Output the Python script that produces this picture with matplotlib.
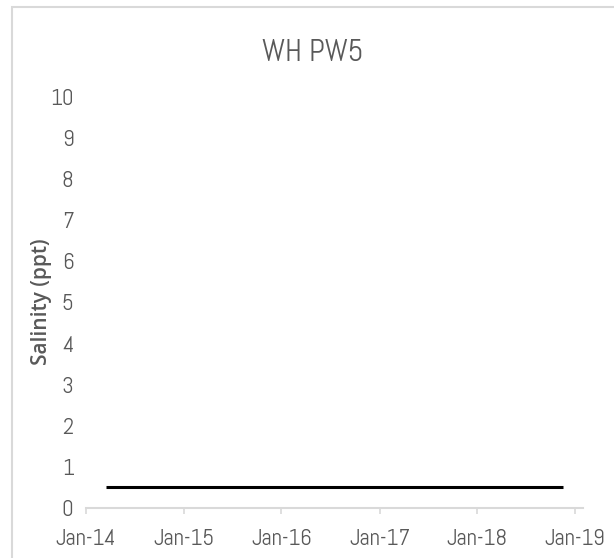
import numpy as np
import matplotlib.pyplot as plt
import matplotlib.dates as mdates
from matplotlib.patches import Rectangle
import datetime as dt

# data
dates = [dt.date(2014, 3, 17), dt.date(2018, 11, 16)]
salinity = [0.51, 0.51]
yticks = list(range(0, 11))
xtick_dates = [dt.date(y, 1, 1) for y in range(2014, 2020)]

narrow = ['Abel', 'Carlito', 'DejaVu Sans']
grey = '#595959'

W, H = 614, 558
fig = plt.figure(figsize=(W / 100, H / 100), dpi=100)

# chart border (Excel style, cropped on right/bottom)
fig.patches.append(Rectangle((12 / W, -0.1), 1.2, 1 - 7.5 / H + 0.1, transform=fig.transFigure,
                             fill=False, edgecolor='#d9d9d9', linewidth=1.5))

left, right, bottom, top = 86, 583, 508, 97
ax = fig.add_axes([left / W, (H - bottom) / H, (right - left) / W, (bottom - top) / H])

ax.plot(mdates.date2num(dates), salinity, color='black', linewidth=2.2, solid_capstyle='butt')

x0 = mdates.date2num(dt.date(2014, 1, 1))
px_per_day = (575 - 86) / (mdates.date2num(dt.date(2019, 1, 1)) - x0)
ax.set_xlim(x0, x0 + (right - left) / px_per_day)
ax.set_ylim(0, 10)

ax.set_xticks(mdates.date2num(xtick_dates))
ax.xaxis.set_major_formatter(mdates.DateFormatter('%b-%y'))
ax.set_yticks(yticks)

for lab in ax.get_xticklabels() + ax.get_yticklabels():
    lab.set_fontfamily(narrow)
    lab.set_fontsize(16.5)
    lab.set_color(grey)

for s in ['top', 'right', 'left']:
    ax.spines[s].set_visible(False)
ax.spines['bottom'].set_color('#d9d9d9')
ax.spines['bottom'].set_linewidth(1.5)
ax.tick_params(axis='x', direction='out', length=4, width=1.2, color='#d9d9d9', pad=11)
ax.tick_params(axis='y', length=0, pad=9)

fig.text(313 / W, 1 - 53 / H, 'WH PW5', ha='center', va='center',
         fontfamily=narrow, fontsize=22, color=grey)
fig.text(41.5 / W, 1 - 302 / H, 'Salinity (ppt)', ha='center', va='center', rotation=90,
         fontfamily=['Open Sans', 'DejaVu Sans'], fontweight='semibold', fontsize=15, color=grey)

fig.savefig('out.png', dpi=100)
